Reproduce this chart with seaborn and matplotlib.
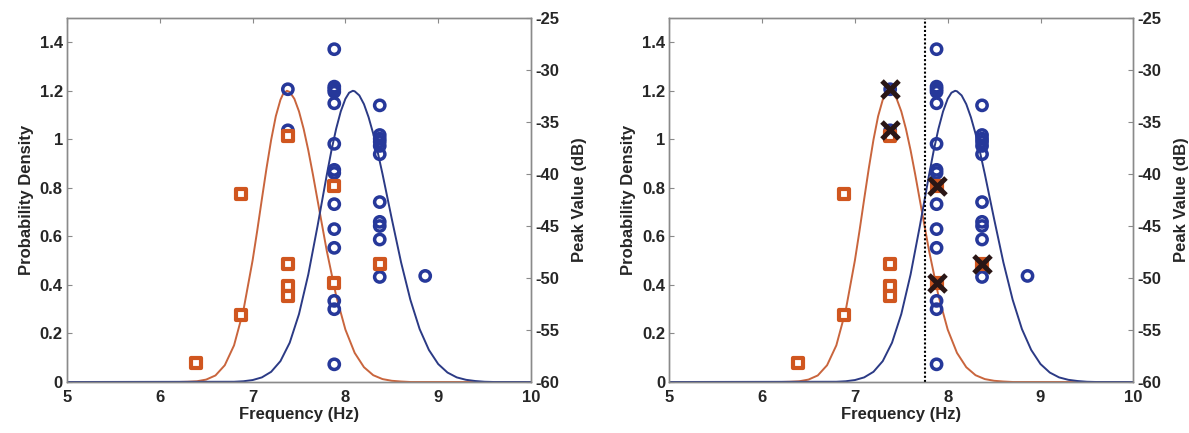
import numpy as np
import pandas as pd
import matplotlib
matplotlib.use("Agg")
import matplotlib.pyplot as plt
import seaborn as sns

# ---------------- data ----------------
# density curves (left axis)
orange_x = [5.0, 6.2, 6.3, 6.4, 6.5, 6.6, 6.7, 6.8, 6.9, 7.0, 7.05, 7.1, 7.15, 7.2, 7.25,
            7.3, 7.33, 7.37, 7.4, 7.45, 7.5, 7.55, 7.6, 7.65, 7.7, 7.8, 7.9, 8.0, 8.1,
            8.2, 8.3, 8.4, 8.5, 8.6, 8.7, 10.0]
orange_density = [0.0, 0.0, 0.001, 0.003, 0.010, 0.027, 0.069, 0.151, 0.293, 0.501, 0.624,
                  0.754, 0.881, 0.998, 1.095, 1.163, 1.188, 1.200, 1.195, 1.167, 1.115,
                  1.043, 0.955, 0.855, 0.749, 0.539, 0.356, 0.216, 0.120, 0.061, 0.028,
                  0.012, 0.005, 0.002, 0.0, 0.0]
blue_x = [5.0, 6.8, 6.9, 7.0, 7.1, 7.2, 7.3, 7.4, 7.5, 7.6, 7.7, 7.8, 7.85, 7.9, 7.95,
          8.0, 8.04, 8.08, 8.1, 8.15, 8.2, 8.25, 8.3, 8.35, 8.4, 8.5, 8.6, 8.7, 8.8,
          8.9, 9.0, 9.1, 9.2, 9.3, 9.4, 9.5, 9.6, 10.0]
blue_density = [0.0, 0.001, 0.003, 0.008, 0.019, 0.042, 0.086, 0.162, 0.280, 0.443, 0.643,
                0.855, 0.955, 1.043, 1.115, 1.167, 1.192, 1.200, 1.198, 1.181, 1.145,
                1.091, 1.023, 0.944, 0.857, 0.672, 0.493, 0.339, 0.218, 0.132, 0.074,
                0.039, 0.019, 0.009, 0.004, 0.001, 0.0, 0.0]

# peak values (right axis, dB)
blue_freq = [7.38, 7.38,
             7.88, 7.88, 7.88, 7.88, 7.88, 7.88, 7.88, 7.88, 7.88, 7.88, 7.88, 7.88, 7.88, 7.88,
             8.37, 8.37, 8.37, 8.37, 8.37, 8.37, 8.37, 8.37, 8.37, 8.37, 8.37,
             8.86]
blue_db = [-31.85, -35.8,
           -28.0, -31.6, -31.85, -32.1, -33.2, -37.1, -39.6, -39.9, -42.9, -45.3, -47.1, -52.2, -53.0, -58.3,
           -33.4, -36.25, -36.6, -36.9, -37.3, -38.1, -42.7, -44.6, -45.0, -46.3, -49.9,
           -49.8]
orange_freq = [6.39, 6.88, 6.88, 7.38, 7.38, 7.38, 7.38, 7.88, 7.88, 8.37]
orange_db = [-58.2, -41.9, -53.6, -36.35, -48.7, -50.8, -51.7, -41.15, -50.5, -48.65]

# misclassified points (right panel)
cross_freq = [7.38, 7.38, 7.88, 7.88, 8.37]
cross_db = [-31.85, -35.8, -41.15, -50.5, -48.65]

threshold = 7.755

x_ticks = [5, 6, 7, 8, 9, 10]
x_ticklabels = ["5", "6", "7", "8", "9", "10"]
y_ticks = [0, 0.2, 0.4, 0.6, 0.8, 1.0, 1.2, 1.4]
y_ticklabels = ["0", "0.2", "0.4", "0.6", "0.8", "1", "1.2", "1.4"]
db_ticks = [-60, -55, -50, -45, -40, -35, -30, -25]
db_ticklabels = ["-60", "-55", "-50", "-45", "-40", "-35", "-30", "-25"]

# ---------------- style ----------------
sns.set_theme(style="white")
plt.rcParams["font.family"] = ["Liberation Sans", "DejaVu Sans"]
plt.rcParams["font.weight"] = "bold"

ORANGE = "#d0561f"
ORANGE_LINE = "#c9653d"
BLUE = "#26389a"
BLUE_LINE = "#2b3a85"
CROSS = "#2a1616"
SPINE = "#8a8a8a"
FS = 12

fig = plt.figure(figsize=(11.89, 4.33), dpi=100)
fig.patch.set_facecolor("white")

orange_df_c = pd.DataFrame({"x": orange_x, "d": orange_density})
blue_df_c = pd.DataFrame({"x": blue_x, "d": blue_density})
blue_df = pd.DataFrame({"f": blue_freq, "db": blue_db})
orange_df = pd.DataFrame({"f": orange_freq, "db": orange_db})
cross_df = pd.DataFrame({"f": cross_freq, "db": cross_db})

positions = [[67 / 1189, 51 / 433, 464 / 1189, 364 / 433],
             [669.3 / 1189, 51 / 433, 464 / 1189, 364 / 433]]

for i, pos in enumerate(positions):
    ax1 = fig.add_axes(pos)
    sns.lineplot(data=orange_df_c, x="x", y="d", ax=ax1, color=ORANGE_LINE, lw=1.4,
                 estimator=None, sort=False)
    sns.lineplot(data=blue_df_c, x="x", y="d", ax=ax1, color=BLUE_LINE, lw=1.4,
                 estimator=None, sort=False)
    ax1.set_xlim(5, 10)
    ax1.set_ylim(0, 1.5)
    ax1.set_xticks(x_ticks)
    ax1.set_xticklabels(x_ticklabels, fontsize=FS, fontweight="bold")
    ax1.set_yticks(y_ticks)
    ax1.set_yticklabels(y_ticklabels, fontsize=FS, fontweight="bold")
    ax1.set_xlabel("Frequency (Hz)", fontsize=FS, fontweight="bold", labelpad=1)
    ax1.set_ylabel("Probability Density", fontsize=FS, fontweight="bold", labelpad=4)
    ax1.tick_params(axis="both", direction="in", length=3.5, width=0.8, color=SPINE,
                    top=True, right=True, labelright=False, labeltop=False)
    ax1.tick_params(axis="x", pad=6)
    ax1.tick_params(axis="y", pad=3)

    ax2 = ax1.twinx()
    sns.scatterplot(data=blue_df, x="f", y="db", ax=ax2, marker="o", s=55,
                    facecolor="none", edgecolor=BLUE, linewidth=2.5, zorder=3)
    sns.scatterplot(data=orange_df, x="f", y="db", ax=ax2, marker="s", s=42,
                    facecolor="white", edgecolor=ORANGE, linewidth=3.0, zorder=4)
    if i == 1:
        sns.scatterplot(data=cross_df, x="f", y="db", ax=ax2, marker="x", s=150,
                        color=CROSS, linewidth=3.6, zorder=5)
        ax2.axvline(threshold, color="black", ls=(0, (1, 1)), lw=1.5, zorder=2)
    ax2.set_xlim(5, 10)
    ax2.set_ylim(-60, -25)
    ax2.set_yticks(db_ticks)
    ax2.set_yticklabels(db_ticklabels, fontsize=FS, fontweight="bold")
    ax2.set_ylabel("Peak Value (dB)", fontsize=FS, fontweight="bold", labelpad=9)
    ax2.set_xlabel("")
    ax2.tick_params(axis="y", direction="in", length=3.5, width=0.8, color=SPINE, pad=3)

    for ax in (ax1, ax2):
        for s in ax.spines.values():
            s.set_color(SPINE)
            s.set_linewidth(1.0)

fig.savefig("out.png", dpi=100, facecolor="white")
